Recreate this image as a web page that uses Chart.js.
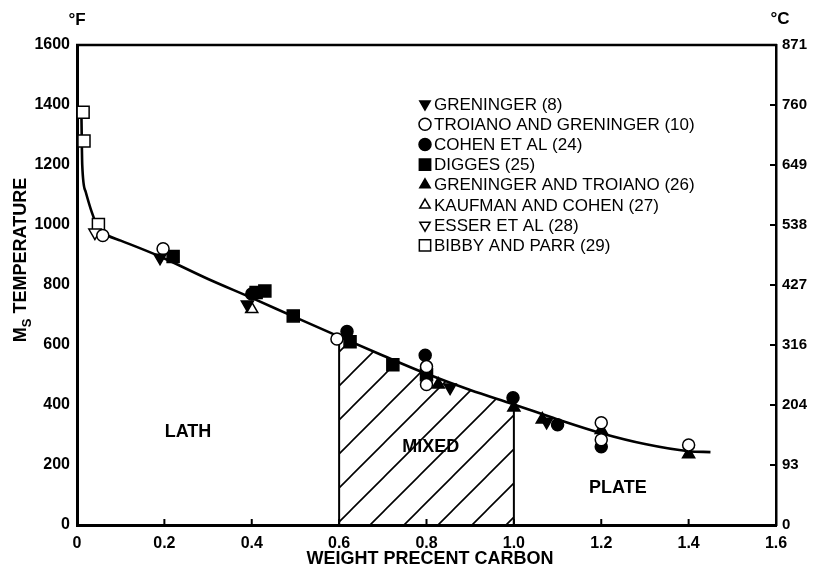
<!DOCTYPE html>
<html>
<head>
<meta charset="utf-8">
<script src="https://cdn.jsdelivr.net/npm/chart.js@4.4.1/dist/chart.umd.min.js"></script>
<style>
  html, body { margin: 0; padding: 0; background: #fff; }
  #wrap { width: 814px; height: 567px; position: relative; }
</style>
</head>
<body>
<div id="wrap"><canvas id="msChart"></canvas></div>
<script>
// ---- data (x = wt% C, y = Ms in °F) ----
const greninger      = [[0.19, 891], [0.39, 735], [0.854, 458], [1.075, 344]];
const troianoGren    = [[0.059, 965], [0.197, 921], [0.595, 620], [0.8, 528], [0.8, 468], [1.2, 341], [1.2, 284], [1.4, 267]];
const cohen          = [[0.40, 770], [0.618, 645], [0.797, 566], [0.998, 424], [1.1, 334], [1.2, 261]];
const digges         = [[0.22, 895], [0.41, 775], [0.43, 780], [0.495, 697], [0.625, 611], [0.723, 534], [0.8, 501]];
const grenTroiano    = [[0.827, 468], [1.0, 392], [1.065, 352], [1.2, 317], [1.4, 236]];
const kaufmanCohen   = [[0.40, 720]];
const esser          = [[0.041, 975]];
const bibbyParr      = [[0.014, 1376], [0.016, 1280], [0.049, 1002]];

// fitted Ms curve
const curvePts = [[0.010, 1380], [0.012, 1200], [0.02, 1110], [0.034, 1042], [0.05, 985], [0.07, 965],
  [0.1, 948], [0.19, 895], [0.3, 820], [0.4, 757], [0.5, 692], [0.6, 628], [0.7, 565], [0.8, 504],
  [0.9, 450], [1.0, 402], [1.1, 352], [1.2, 306], [1.3, 270], [1.4, 246], [1.45, 243]];
// hatched "mixed" zone 0.6 - 1.0 wt% C
const mixedPts = [[0.6, 628], [0.7, 565], [0.8, 504], [0.9, 450], [1.0, 402]];
const mixedLeft  = [[0.6, 0], [0.6, 628]];
const mixedRight = [[1.0, 0], [1.0, 402]];

const legendLabels = ['GRENINGER (8)', 'TROIANO AND GRENINGER (10)', 'COHEN ET AL (24)', 'DIGGES (25)',
  'GRENINGER AND TROIANO (26)', 'KAUFMAN AND COHEN (27)', 'ESSER ET AL (28)', 'BIBBY AND PARR (29)'];
const celsiusLabels = ['0', '93', '204', '316', '427', '538', '649', '760', '871'];
const regionNames = ['LATH', 'MIXED', 'PLATE'];
const regionX = [0.254, 0.81, 1.238];
const regionY = [311, 260, 124];

const FONT = "'Liberation Sans', Arial, sans-serif";
const toXY = arr => arr.map(p => ({ x: p[0], y: p[1] }));

// hatch pattern (diagonal lines)
function makeHatch() {
  const s = 34;
  const c = document.createElement('canvas');
  c.width = s; c.height = s;
  const g = c.getContext('2d');
  g.strokeStyle = '#000';
  g.lineWidth = 1.6;
  g.beginPath();
  g.moveTo(-2, s + 2); g.lineTo(s + 2, -2);
  g.moveTo(-2, 2); g.lineTo(2, -2);
  g.moveTo(s - 2, s + 2); g.lineTo(s + 2, s - 2);
  g.stroke();
  const pat = document.getElementById('msChart').getContext('2d').createPattern(c, 'repeat');
  if (pat.setTransform) pat.setTransform(new DOMMatrix().translate(11, 0));
  return pat;
}

// marker definitions shared by datasets and the legend
const markers = [
  { data: greninger,    style: 'triangle', rotation: 180, radius: 7,   fill: '#000' },
  { data: troianoGren,  style: 'circle',   rotation: 0,   radius: 6,   fill: '#fff' },
  { data: cohen,        style: 'circle',   rotation: 0,   radius: 6,   fill: '#000' },
  { data: digges,       style: 'rect',     rotation: 0,   radius: 8.5, fill: '#000' },
  { data: grenTroiano,  style: 'triangle', rotation: 0,   radius: 7,   fill: '#000' },
  { data: kaufmanCohen, style: 'triangle', rotation: 0,   radius: 7,   fill: '#fff' },
  { data: esser,        style: 'triangle', rotation: 180, radius: 7,   fill: '#fff' },
  { data: bibbyParr,    style: 'rect',     rotation: 0,   radius: 8.5, fill: '#fff' }
];

const markerSets = markers.map((m, i) => ({
  type: 'scatter',
  label: legendLabels[i],
  data: toXY(m.data),
  pointStyle: m.style,
  rotation: m.rotation,
  pointRadius: m.radius,
  pointHoverRadius: m.radius,
  pointBackgroundColor: m.fill,
  pointBorderColor: '#000',
  pointBorderWidth: 1.5,
  showLine: false
}));

const lineSets = [
  { type: 'line', label: 'curve', data: toXY(curvePts), borderColor: '#000', borderWidth: 2.6,
    pointRadius: 0, cubicInterpolationMode: 'monotone', fill: false },
  { type: 'line', label: 'mixedLeft', data: toXY(mixedLeft), borderColor: '#000', borderWidth: 2,
    pointRadius: 0, fill: false },
  { type: 'line', label: 'mixedRight', data: toXY(mixedRight), borderColor: '#000', borderWidth: 2,
    pointRadius: 0, fill: false },
  { type: 'line', label: 'mixed', data: toXY(mixedPts), borderWidth: 0, borderColor: 'rgba(0,0,0,0)',
    pointRadius: 0, cubicInterpolationMode: 'monotone', fill: 'origin', backgroundColor: makeHatch() }
];

function drawMarker(ctx, m, x, y) {
  const opts = { pointStyle: m.style, rotation: m.rotation, radius: m.radius, borderWidth: 1.5 };
  ctx.save();
  ctx.fillStyle = m.fill;
  ctx.strokeStyle = '#000';
  ctx.lineWidth = 1.5;
  if (Chart.helpers && Chart.helpers.drawPoint) {
    Chart.helpers.drawPoint(ctx, opts, x, y);
  } else {
    ctx.beginPath(); ctx.arc(x, y, m.radius, 0, Math.PI * 2); ctx.fill(); ctx.stroke();
  }
  ctx.restore();
}

// extra drawing: frame, inward ticks, titles, region labels, legend
const decorPlugin = {
  id: 'decor',
  afterDraw(chart) {
    const { ctx, chartArea: a, scales } = chart;
    const xs = scales.x, y2 = scales.y2;
    ctx.save();
    ctx.strokeStyle = '#000';
    // top border
    ctx.lineWidth = 2.5;
    ctx.beginPath(); ctx.moveTo(a.left - 1, a.top); ctx.lineTo(a.right + 1, a.top); ctx.stroke();
    // inward ticks
    ctx.lineWidth = 2;
    xs.ticks.forEach(t => {
      const px = xs.getPixelForValue(t.value);
      ctx.beginPath(); ctx.moveTo(px, a.bottom); ctx.lineTo(px, a.bottom - 6); ctx.stroke();
    });
    y2.ticks.forEach(t => {
      const py = y2.getPixelForValue(t.value);
      ctx.beginPath(); ctx.moveTo(a.right, py); ctx.lineTo(a.right - 6, py); ctx.stroke();
    });

    ctx.fillStyle = '#000';
    ctx.textBaseline = 'middle';
    ctx.textAlign = 'center';
    ctx.font = 'bold 17px ' + FONT;
    ctx.fillText('°F', a.left, 20);
    ctx.fillText('°C', a.right + 4, 19);

    // x title
    ctx.font = 'bold 18px ' + FONT;
    ctx.fillText('WEIGHT PRECENT CARBON', 430, 559);

    // y title with subscript S
    ctx.save();
    ctx.translate(21, 260);
    ctx.rotate(-Math.PI / 2);
    const big = 'bold 18px ' + FONT, small = 'bold 13px ' + FONT;
    ctx.font = big; const wM = ctx.measureText('M').width;
    ctx.font = small; const wS = ctx.measureText('S').width;
    ctx.font = big; const wT = ctx.measureText(' TEMPERATURE').width;
    let x0 = -(wM + wS + wT) / 2;
    ctx.textAlign = 'left';
    ctx.font = big; ctx.fillText('M', x0, 0);
    ctx.font = small; ctx.fillText('S', x0 + wM, 6);
    ctx.font = big; ctx.fillText(' TEMPERATURE', x0 + wM + wS, 0);
    ctx.restore();

    // region labels
    ctx.font = 'bold 18px ' + FONT;
    ctx.textAlign = 'center';
    regionNames.forEach((n, i) => {
      ctx.fillText(n, xs.getPixelForValue(regionX[i]), scales.y.getPixelForValue(regionY[i]));
    });

    // legend
    ctx.font = '17px ' + FONT;
    ctx.textAlign = 'left';
    markers.forEach((m, i) => {
      const ly = 104 + i * 20.2;
      const lm = Object.assign({}, m, { radius: m.style === 'rect' ? 8 : 6 });
      drawMarker(ctx, lm, 425, ly);
      ctx.fillStyle = '#000';
      ctx.fillText(legendLabels[i], 434, ly + 1);
    });
    ctx.restore();
  }
};

const ctx = document.getElementById('msChart').getContext('2d');

const cfg = {
  type: 'scatter',
  data: { datasets: markerSets.concat(lineSets) },
  options: {
    responsive: true,
    maintainAspectRatio: false,
    animation: false,
    layout: { padding: { top: 45, left: 0, right: 0, bottom: 0 } },
    plugins: {
      legend: { display: false },
      tooltip: { enabled: false }
    },
    scales: {
      x: {
        type: 'linear',
        min: 0, max: 1.6,
        afterFit: s => { s.height = 42; },
        ticks: {
          stepSize: 0.2,
          padding: 9,
          color: '#000',
          font: { family: FONT, size: 16, weight: 'bold' },
          callback: v => (v === 0 ? '0' : Number(v).toFixed(1))
        },
        grid: { display: false, drawTicks: false },
        border: { display: true, color: '#000', width: 3 }
      },
      y: {
        type: 'linear',
        position: 'left',
        min: 0, max: 1600,
        afterFit: s => { s.width = 77; },
        ticks: {
          stepSize: 200,
          padding: 7,
          color: '#000',
          font: { family: FONT, size: 16, weight: 'bold' },
          callback: v => String(Math.round(v))
        },
        grid: { display: false, drawTicks: false },
        border: { display: true, color: '#000', width: 3 }
      },
      y2: {
        type: 'linear',
        position: 'right',
        min: 0, max: 1600,
        afterFit: s => { s.width = 38; },
        ticks: {
          stepSize: 200,
          padding: 6,
          color: '#000',
          font: { family: FONT, size: 15, weight: 'bold' },
          callback: (v, i) => celsiusLabels[i]
        },
        grid: { display: false, drawTicks: false },
        border: { display: true, color: '#000', width: 2.5 }
      }
    }
  },
  plugins: [decorPlugin]
};

const msChart = new Chart(ctx, cfg);
</script>
</body>
</html>
